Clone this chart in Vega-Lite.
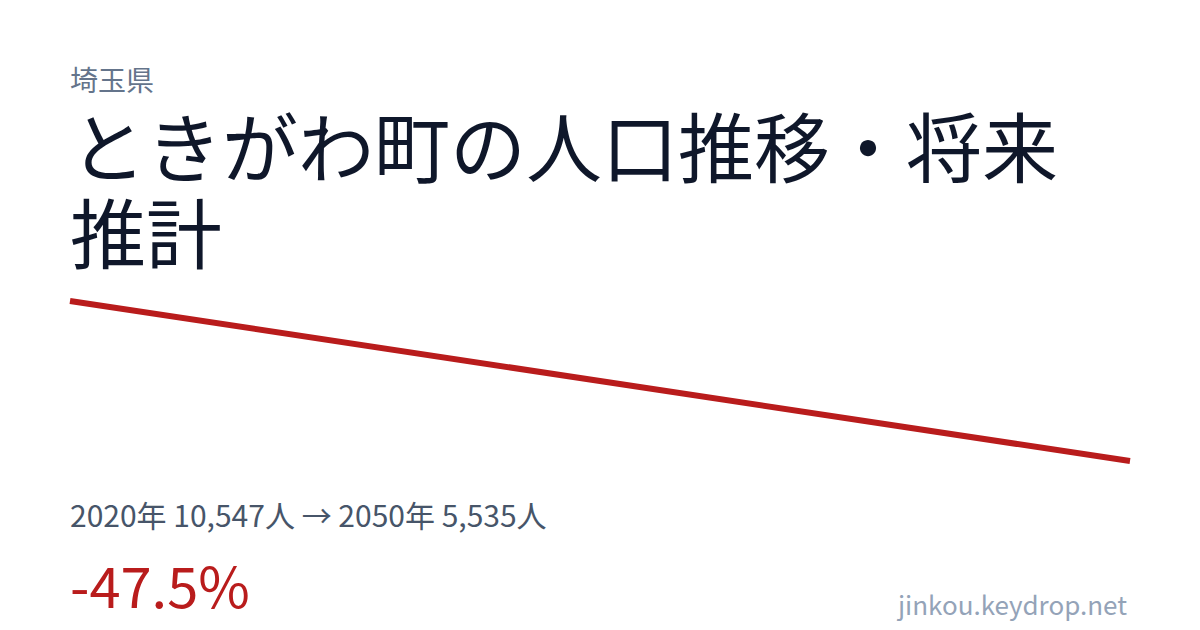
{
  "$schema": "https://vega.github.io/schema/vega-lite/v6.json",
  "width": 1200,
  "height": 630,
  "autosize": {"type": "fit", "contains": "padding"},
  "padding": 0,
  "background": "#ffffff",
  "config": {
    "view": {"stroke": null},
    "font": "Noto Sans CJK JP",
    "text": {"font": "Noto Sans CJK JP"}
  },
  "layer": [
    {
      "data": {
        "values": [
          {"year": 2020, "population": 10547},
          {"year": 2050, "population": 5535}
        ]
      },
      "mark": {"type": "line", "color": "#b91c1c", "strokeWidth": 6, "strokeCap": "butt"},
      "encoding": {
        "x": {
          "field": "year",
          "type": "quantitative",
          "scale": {"domain": [2018.019, 2051.981], "nice": false, "zero": false},
          "axis": null
        },
        "y": {
          "field": "population",
          "type": "quantitative",
          "scale": {"domain": [241, 19976], "nice": false, "zero": false},
          "axis": null
        }
      }
    },
    {
      "data": {"values": [{}]},
      "mark": {"type": "text", "text": "埼玉県", "fontSize": 28, "color": "#64748b", "align": "left", "baseline": "alphabetic"},
      "encoding": {
        "x": {"datum": 2020, "type": "quantitative"},
        "y": {"datum": 17125, "type": "quantitative"}
      }
    },
    {
      "data": {"values": [{}]},
      "mark": {"type": "text", "text": "ときがわ町の人口推移・将来", "fontSize": 76, "color": "#0f172a", "align": "left", "baseline": "alphabetic"},
      "encoding": {
        "x": {"datum": 2020, "type": "quantitative"},
        "y": {"datum": 14431, "type": "quantitative"}
      }
    },
    {
      "data": {"values": [{}]},
      "mark": {"type": "text", "text": "推計", "fontSize": 76, "color": "#0f172a", "align": "left", "baseline": "alphabetic"},
      "encoding": {
        "x": {"datum": 2020, "type": "quantitative"},
        "y": {"datum": 11738, "type": "quantitative"}
      }
    },
    {
      "data": {"values": [{}]},
      "mark": {"type": "text", "text": "2020年 10,547人 → 2050年 5,535人", "fontSize": 30, "color": "#475569", "align": "left", "baseline": "alphabetic"},
      "encoding": {
        "x": {"datum": 2020, "type": "quantitative"},
        "y": {"datum": 3468, "type": "quantitative"}
      }
    },
    {
      "data": {"values": [{}]},
      "mark": {"type": "text", "text": "-47.5%", "fontSize": 56, "color": "#b91c1c", "align": "left", "baseline": "alphabetic"},
      "encoding": {
        "x": {"datum": 2020, "type": "quantitative"},
        "y": {"datum": 930, "type": "quantitative"}
      }
    },
    {
      "data": {"values": [{}]},
      "mark": {"type": "text", "text": "jinkou.keydrop.net", "fontSize": 26, "color": "#94a3b8", "align": "right", "baseline": "alphabetic"},
      "encoding": {
        "x": {"datum": 2049.915, "type": "quantitative"},
        "y": {"datum": 711, "type": "quantitative"}
      }
    }
  ]
}
